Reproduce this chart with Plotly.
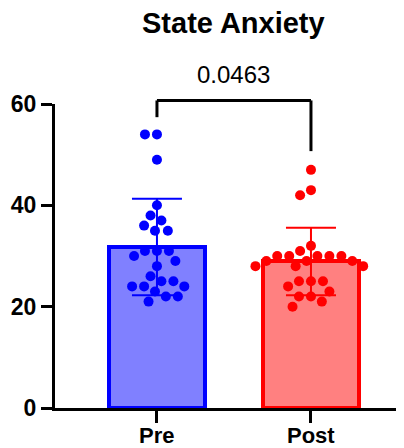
import math
import plotly.graph_objects as go

# ---------------- data ----------------
categories = ["Pre", "Post"]
pre_values = [54, 54, 49, 40, 38, 37, 36, 35, 35, 31, 31, 31, 30, 29, 28,
              26, 25, 25, 24, 24, 24, 23, 22, 22, 21]
post_values = [47, 43, 42, 32, 31, 30, 30, 30, 30, 30, 29, 29, 29, 28, 28,
               28, 25, 25, 25, 24, 23, 22, 22, 21, 20]
y_ticks = [0, 20, 40, 60]
p_value_text = "0.0463"
title_text = "State Anxiety"

# ---------------- layout constants ----------------
# the page body has an 8px margin, so the figure is 8px smaller than the window
OFF = 8
W, H = 404 - OFF, 448 - OFF
M_L, M_R, M_T, M_B = 55 - OFF, 0, 104 - OFF, 40
Y_MAX = 60
X_RANGE = [-0.662, 1.604]
plot_w = W - M_L - M_R
plot_h = H - M_T - M_B
px_x = plot_w / (X_RANGE[1] - X_RANGE[0])
px_y = plot_h / Y_MAX

FONT = "Arial, Liberation Sans, Helvetica, sans-serif"
colors = ["#0000FF", "#FF0000"]
fills = ["#8080FF", "#FF8080"]


def mean_sd(v):
    m = sum(v) / len(v)
    sd = math.sqrt(sum((x - m) ** 2 for x in v) / (len(v) - 1))
    return m, sd


def swarm(values, center, d_px=12.0):
    order = sorted(range(len(values)), key=lambda i: -values[i])
    placed = []
    xs = [0.0] * len(values)
    for i in order:
        y = values[i] * px_y
        intervals = []
        for xp, yp in placed:
            dy = abs(y - yp)
            if dy < d_px:
                dx = math.sqrt(d_px ** 2 - dy ** 2)
                intervals.append((xp - dx, xp + dx))
        cands = [0.0] + [a for a, b in intervals] + [b for a, b in intervals]
        ok = [c for c in cands if all(not (a + 1e-6 < c < b - 1e-6) for a, b in intervals)]
        best = min(ok, key=lambda c: (abs(c), c))
        xs[i] = best
        placed.append((best, y))
    return [center + x / px_x for x in xs]


def page_to_paper_y(py):
    fy = py - OFF
    return (H - M_B - fy) / plot_h


def page_to_paper_x(px):
    fx = px - OFF
    return (fx - M_L) / plot_w


groups = [pre_values, post_values]
stats = [mean_sd(v) for v in groups]

fig = go.Figure()

for k, vals in enumerate(groups):
    m, sd = stats[k]
    fig.add_trace(go.Bar(
        x=[k], y=[m], width=0.625,
        marker=dict(color=fills[k], line=dict(color=colors[k], width=4)),
        showlegend=False, hoverinfo="skip",
    ))

for k, vals in enumerate(groups):
    fig.add_trace(go.Scatter(
        x=swarm(vals, k), y=vals, mode="markers",
        marker=dict(size=10, color=colors[k], line=dict(width=0)),
        showlegend=False, cliponaxis=False,
    ))

for k, vals in enumerate(groups):
    m, sd = stats[k]
    fig.add_trace(go.Scatter(
        x=[k], y=[m], mode="markers",
        marker=dict(size=1, color="rgba(0,0,0,0)"),
        error_y=dict(type="data", array=[sd], symmetric=True,
                     color=colors[k], thickness=2, width=25),
        showlegend=False,
    ))

# significance bracket
br_top = 60.7
br_left_end = 57.4
br_right_end = 50.7
for (x0, y0, x1, y1) in [(0, br_left_end, 0, br_top), (0, br_top, 1, br_top), (1, br_top, 1, br_right_end)]:
    fig.add_shape(type="line", xref="x", yref="paper",
                  x0=x0, x1=x1, y0=y0 / Y_MAX, y1=y1 / Y_MAX,
                  line=dict(color="black", width=3))

fig.add_annotation(x=0.5, xref="x", y=page_to_paper_y(75), yref="paper",
                   yanchor="middle", xanchor="center",
                   text=p_value_text, showarrow=False,
                   font=dict(family=FONT, size=24, color="black"))

fig.add_annotation(x=page_to_paper_x(233.5), xref="paper", y=page_to_paper_y(23), yref="paper",
                   yanchor="middle", xanchor="center",
                   text="<b>" + title_text + "</b>", showarrow=False,
                   font=dict(family=FONT, size=29, color="black"))

# category labels (placed as annotations so they sit where the reference has them)
for k, c in enumerate(categories):
    fig.add_annotation(x=k, xref="x", y=page_to_paper_y(435.5), yref="paper",
                       yanchor="middle", xanchor="center",
                       text="<b>%s</b>" % c, showarrow=False,
                       font=dict(family=FONT, size=22, color="black"))

fig.update_layout(
    width=W, height=H,
    margin=dict(l=M_L, r=M_R, t=M_T, b=M_B, pad=0),
    plot_bgcolor="white", paper_bgcolor="white",
    bargap=0,
    font=dict(family=FONT, color="black"),
)
fig.update_xaxes(
    range=X_RANGE, tickmode="array", tickvals=[0, 1], ticktext=["", ""],
    showline=True, linecolor="black", linewidth=3,
    ticks="outside", ticklen=12, tickwidth=3, tickcolor="black",
    showgrid=False, zeroline=False, fixedrange=True, automargin=False,
)
fig.update_yaxes(
    range=[0, Y_MAX], tickmode="array", tickvals=y_ticks, ticktext=["<b>%d</b>" % t for t in y_ticks],
    showline=True, linecolor="black", linewidth=3,
    ticks="outside", ticklen=11, tickwidth=3, tickcolor="black",
    tickfont=dict(family=FONT, size=23, color="black"),
    showgrid=False, zeroline=False, fixedrange=True, automargin=False,
)

fig.write_html("out.html", config=dict(displayModeBar=False))
